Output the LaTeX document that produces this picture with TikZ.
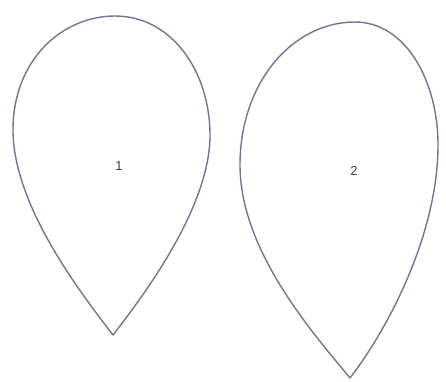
\documentclass[tikz,border=0pt]{standalone}
\usepackage{fontspec}
\setmainfont{Liberation Sans}
\definecolor{outline}{RGB}{112,118,145}
\begin{document}
\begin{tikzpicture}[x=1pt,y=-1pt,
  petal/.style={draw=outline,line width=1.4pt,line join=round},
  lbl/.style={font=\fontsize{13}{15}\selectfont,text=black!75}]
\useasboundingbox (0,0) rectangle (446,381);
% petal 1
\draw[petal] (113,335) .. controls (80,292) and (13,205) .. (13,130)
  .. controls (13,60) and (62,16) .. (115,16)
  .. controls (172,16) and (210,72) .. (210,135)
  .. controls (210,205) and (148,290) .. (113,335) -- cycle;
\node[lbl] (one) at (119,166) {1};
% petal 2
\draw[petal] (350,378) .. controls (312,332) and (240,250) .. (240,165)
  .. controls (240,82) and (293,22) .. (355,22)
  .. controls (405,22) and (438,80) .. (438,145)
  .. controls (438,232) and (390,326) .. (350,378) -- cycle;
\node[lbl] (two) at (354,171) {2};
\end{tikzpicture}
\end{document}
